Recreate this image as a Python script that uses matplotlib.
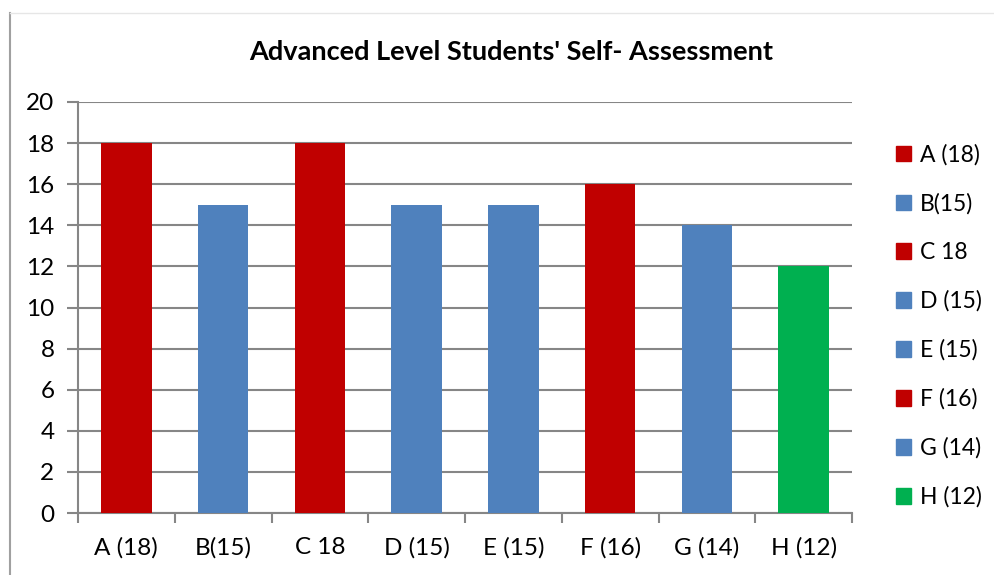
import matplotlib.pyplot as plt
from matplotlib.lines import Line2D
from matplotlib.patches import Patch

# data
labels = ['A (18)', 'B(15)', 'C 18', 'D (15)', 'E (15)', 'F (16)', 'G (14)', 'H (12)']
values = [18, 15, 18, 15, 15, 16, 14, 12]
colors = ['#C00000', '#4F81BD', '#C00000', '#4F81BD', '#4F81BD', '#C00000', '#4F81BD', '#00B050']
yticks = [0, 2, 4, 6, 8, 10, 12, 14, 16, 18, 20]

plt.rcParams['font.family'] = ['Lato', 'DejaVu Sans']
grid_col = '#868686'

fig = plt.figure(figsize=(9.94, 5.75), dpi=100)
ax = fig.add_axes([78/994, 1 - 513/575, (852-78)/994, (513-102)/575])

x = list(range(len(labels)))
ax.bar(x, values, width=0.52, color=colors, zorder=3)

ax.set_xlim(-0.5, len(labels) - 0.5)
ax.set_ylim(0, 20)
ax.set_yticks(yticks)
ax.set_xticks(x)
ax.set_xticklabels(labels)
ax.set_xticks([i - 0.5 for i in range(len(labels) + 1)], minor=True)
ax.tick_params(axis='x', which='major', length=0, pad=17, labelsize=17.5)
ax.tick_params(axis='x', which='minor', length=7, width=1.5, color=grid_col)
ax.tick_params(axis='y', length=8, width=1.5, color=grid_col, labelsize=17.5, pad=9)
ax.grid(axis='y', color=grid_col, linewidth=1.5, zorder=0)

for s in ['top', 'right']:
    ax.spines[s].set_visible(False)
for s in ['left', 'bottom']:
    ax.spines[s].set_color(grid_col)
    ax.spines[s].set_linewidth(1.5)

fig.text(511/994, 1 - 52/575, "Advanced Level Students' Self- Assessment",
         ha='center', va='center', fontsize=19.5, fontweight='bold')

handles = [Patch(color=c) for c in colors]
fig.legend(handles, labels, loc='center left', bbox_to_anchor=(875/994, 1 - 326/575),
           frameon=False, fontsize=16.5, handlelength=0.65, handleheight=0.65,
           handletextpad=0.4, labelspacing=1.2)

# outer chart border lines
fig.add_artist(Line2D([10/994, 10/994], [0, 1 - 13/575], color='#A0A0A0', lw=1.5))
fig.add_artist(Line2D([10/994, 1], [1 - 13/575, 1 - 13/575], color='#E6E6E6', lw=1))

fig.savefig('out.png', dpi=100)
